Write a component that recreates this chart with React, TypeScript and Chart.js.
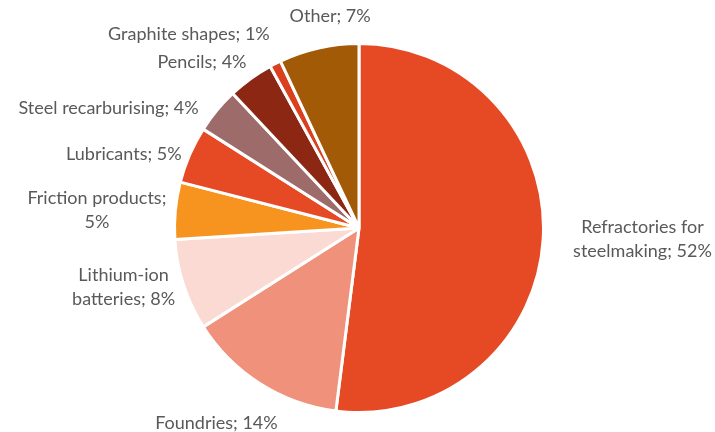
import React, { useEffect, useRef } from "react";
import { Chart, registerables } from "chart.js";

Chart.register(...registerables);

const categories: string[][] = [
  ["Refractories for", "steelmaking; 52%"],
  ["Foundries; 14%"],
  ["Lithium-ion", "batteries; 8%"],
  ["Friction products;", "5%"],
  ["Lubricants; 5%"],
  ["Steel recarburising; 4%"],
  ["Pencils; 4%"],
  ["Graphite shapes; 1%"],
  ["Other; 7%"],
];
const values: number[] = [52, 14, 8, 5, 5, 4, 4, 1, 7];
const colors: string[] = [
  "#E64A25",
  "#F0917B",
  "#FADAD3",
  "#F7941F",
  "#E64A25",
  "#9E6B6B",
  "#8C2713",
  "#DA3F1E",
  "#A25A06",
];

// label layout: alignment of the text block and offset from the arc's mid-angle anchor
const labelAlign: ("left" | "right" | "center")[] = [
  "left", "right", "right", "right", "right", "right", "right", "right", "center",
];
const labelDx: number[] = [18, 24, 3, 3, 3, -9, 3, 0, 14];
const labelDy: number[] = [-1, 29, -2, 1, 4, 5, -7, -19, -20];

const FONT = "18px Lato";
const LINE_H = 24;

const labelPlugin = {
  id: "outerLabels",
  afterDraw(chart: any) {
    const ctx = chart.ctx;
    const meta = chart.getDatasetMeta(0);
    ctx.save();
    ctx.font = FONT;
    ctx.fillStyle = "#595959";
    ctx.textBaseline = "middle";
    meta.data.forEach((arc: any, i: number) => {
      const mid = (arc.startAngle + arc.endAngle) / 2;
      const r = arc.outerRadius + 12;
      const ax = arc.x + Math.cos(mid) * r + labelDx[i];
      const ay = arc.y + Math.sin(mid) * r + labelDy[i];
      const lines = categories[i];
      const w = Math.max(...lines.map((l) => ctx.measureText(l).width));
      let cx = ax;
      if (labelAlign[i] === "left") cx = ax + w / 2;
      else if (labelAlign[i] === "right") cx = ax - w / 2;
      const top = ay - ((lines.length - 1) * LINE_H) / 2;
      ctx.textAlign = "center";
      lines.forEach((l, j) => ctx.fillText(l, cx, top + j * LINE_H));
    });
    ctx.restore();
  },
};

export default function App() {
  const ref = useRef<HTMLCanvasElement>(null);
  useEffect(() => {
    document.body.style.margin = "0";
    const chart = new Chart(ref.current!, {
      type: "pie",
      data: {
        labels: categories.map((c) => c.join(" ")),
        datasets: [
          {
            data: values,
            backgroundColor: colors,
            borderColor: "#ffffff",
            borderWidth: 3,
          },
        ],
      },
      options: {
        animation: false,
        responsive: false,
        layout: { padding: { top: 42, bottom: 18, left: 173, right: 170 } },
        plugins: {
          legend: { display: false },
          tooltip: { enabled: false },
        },
      },
      plugins: [labelPlugin],
    });
    return () => chart.destroy();
  }, []);
  return (
    <div style={{ width: 715, height: 432, background: "#fff" }}>
      <canvas ref={ref} width={715} height={432} />
    </div>
  );
}
